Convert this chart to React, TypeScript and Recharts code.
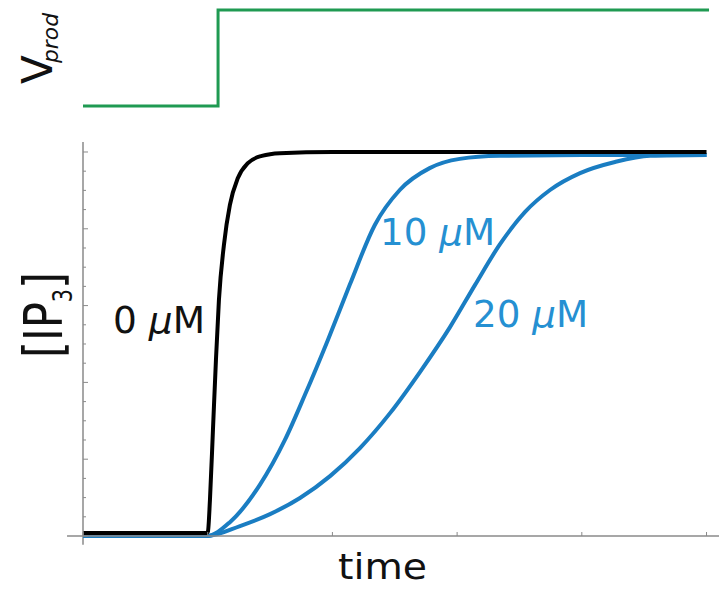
import { LineChart, Line, XAxis, YAxis, ReferenceLine } from "recharts";

// time grid (arbitrary units) and normalised levels
const TIME_TICKS = [0, 1, 2, 3, 4, 5];
const LEVEL_TICKS = [
  0, 0.05, 0.1, 0.15, 0.2, 0.25, 0.3, 0.35, 0.4, 0.45, 0.5, 0.55, 0.6, 0.65,
  0.7, 0.75, 0.8, 0.85, 0.9, 0.95, 1.0,
];

// production rate: switched on a little after t = 1
const vprodTime = [0, 1.083, 5.02];
const vprodLevel = [0, 1, 1];

// IP3 response, no inhibitor
const time0 = [0, 0.994, 1.002, 1.018, 1.042, 1.066, 1.09, 1.13, 1.178, 1.242, 1.322, 1.434, 1.579, 2.0, 5.0];
const ip3At0 = [0.008, 0.008, 0.012, 0.094, 0.276, 0.458, 0.615, 0.758, 0.862, 0.932, 0.971, 0.99, 0.997, 1.0, 1.0];

// 10 uM
const time10 = [0, 0.994, 1.178, 1.418, 1.619, 1.779, 1.963, 2.139, 2.34, 2.54, 2.78, 3.021, 3.341, 4.0, 5.0];
const ip3At10 = [0, 0, 0.036, 0.133, 0.25, 0.367, 0.51, 0.654, 0.81, 0.901, 0.958, 0.982, 0.99, 0.992, 0.992];

// 20 uM
const time20 = [0, 0.994, 1.259, 1.5, 1.74, 1.981, 2.221, 2.462, 2.702, 2.943, 3.144, 3.344, 3.545, 3.745, 3.986, 4.266, 4.547, 5.0];
const ip3At20 = [0, 0, 0.026, 0.057, 0.099, 0.156, 0.229, 0.32, 0.427, 0.544, 0.654, 0.76, 0.844, 0.901, 0.945, 0.974, 0.99, 0.992];

const toRows = (ts: number[], vs: number[]) => ts.map((t, i) => ({ t, v: vs[i] }));

const AXIS = "#8a8a8a";
const BLUE = "#1a7dc2";
const LABEL_BLUE = "#2590d2";
const GREEN = "#1f9a52";
const FONT = "'DejaVu Sans', sans-serif";

const LevelTick = (props: any) => {
  const { x, y, payload } = props;
  const major = Math.abs(payload.value * 5 - Math.round(payload.value * 5)) < 1e-6;
  return <line x1={x} x2={x + (major ? 5 : 3)} y1={y} y2={y} stroke={AXIS} strokeWidth={1} />;
};

const TimeTick = (props: any) => {
  const { x, y } = props;
  return <line x1={x} x2={x} y1={y} y2={y - 4} stroke={AXIS} strokeWidth={1} />;
};

export default function App() {
  return (
    <div style={{ position: "absolute", left: 0, top: 0, width: 719, height: 589, background: "#fff" }}>
      <LineChart
        width={719}
        height={130}
        margin={{ top: 10, right: 0, bottom: 24, left: 83 }}
        style={{ position: "absolute", left: 0, top: 0 }}
      >
        <XAxis type="number" dataKey="t" domain={[0, 5.1]} hide />
        <YAxis type="number" domain={[0, 1]} hide />
        <Line
          data={toRows(vprodTime, vprodLevel)}
          dataKey="v"
          type="stepAfter"
          stroke={GREEN}
          strokeWidth={3}
          dot={false}
          isAnimationActive={false}
        />
      </LineChart>

      <LineChart
        width={719}
        height={589}
        margin={{ top: 142, right: 0, bottom: 0, left: 0 }}
        style={{ position: "absolute", left: 0, top: 0 }}
      >
        <XAxis
          type="number"
          dataKey="t"
          domain={[0, 5.1]}
          ticks={TIME_TICKS}
          interval={0}
          height={53}
          tickSize={0}
          tickMargin={0}
          tickLine={false}
          tick={<TimeTick />}
          axisLine={{ stroke: AXIS, strokeWidth: 1.5 }}
        />
        <YAxis
          type="number"
          domain={[0, 1.026]}
          ticks={LEVEL_TICKS}
          interval={0}
          width={83}
          tickSize={0}
          tickMargin={0}
          tickLine={false}
          tick={<LevelTick />}
          axisLine={{ stroke: AXIS, strokeWidth: 1.5 }}
        />
        <ReferenceLine
          segment={[{ x: 0, y: 0 }, { x: 0, y: -0.023 }]}
          ifOverflow="visible"
          stroke={AXIS}
          strokeWidth={1.5}
        />
        <ReferenceLine
          segment={[{ x: -0.128, y: 0 }, { x: 0, y: 0 }]}
          ifOverflow="visible"
          stroke={AXIS}
          strokeWidth={1.5}
        />
        <Line data={toRows(time20, ip3At20)} dataKey="v" type="monotone" stroke={BLUE} strokeWidth={4} dot={false} isAnimationActive={false} />
        <Line data={toRows(time10, ip3At10)} dataKey="v" type="monotone" stroke={BLUE} strokeWidth={4} dot={false} isAnimationActive={false} />
        <Line data={toRows(time0, ip3At0)} dataKey="v" type="monotone" stroke="#000" strokeWidth={4} dot={false} isAnimationActive={false} />
      </LineChart>

      <svg width={719} height={589} style={{ position: "absolute", left: 0, top: 0, pointerEvents: "none" }}>
        <g fontFamily={FONT}>
          <text transform="translate(52,84) rotate(-90)" fontSize={42} fill="#111">V</text>
          <text transform="translate(58,63) rotate(-90)" fontSize={22} fontStyle="italic" fill="#111" textLength={50} lengthAdjust="spacingAndGlyphs">prod</text>

          <text transform="translate(62,358) rotate(-90)" fontSize={54} fill="#111" textLength={86} lengthAdjust="spacingAndGlyphs">
            [IP<tspan fontSize={26} dy={10}>3</tspan><tspan dy={-10}>]</tspan>
          </text>

          <text x={338} y={579} fontSize={36} fill="#111" textLength={89} lengthAdjust="spacingAndGlyphs">time</text>

          <text x={113} y={333} fontSize={38} fill="#111" textLength={92} lengthAdjust="spacingAndGlyphs">
            0 <tspan fontStyle="italic">μ</tspan>M
          </text>
          <text x={380} y={245} fontSize={38} fill={LABEL_BLUE} textLength={115} lengthAdjust="spacingAndGlyphs">
            10 <tspan fontStyle="italic">μ</tspan>M
          </text>
          <text x={473} y={327} fontSize={38} fill={LABEL_BLUE} textLength={115} lengthAdjust="spacingAndGlyphs">
            20 <tspan fontStyle="italic">μ</tspan>M
          </text>
        </g>
      </svg>
    </div>
  );
}
